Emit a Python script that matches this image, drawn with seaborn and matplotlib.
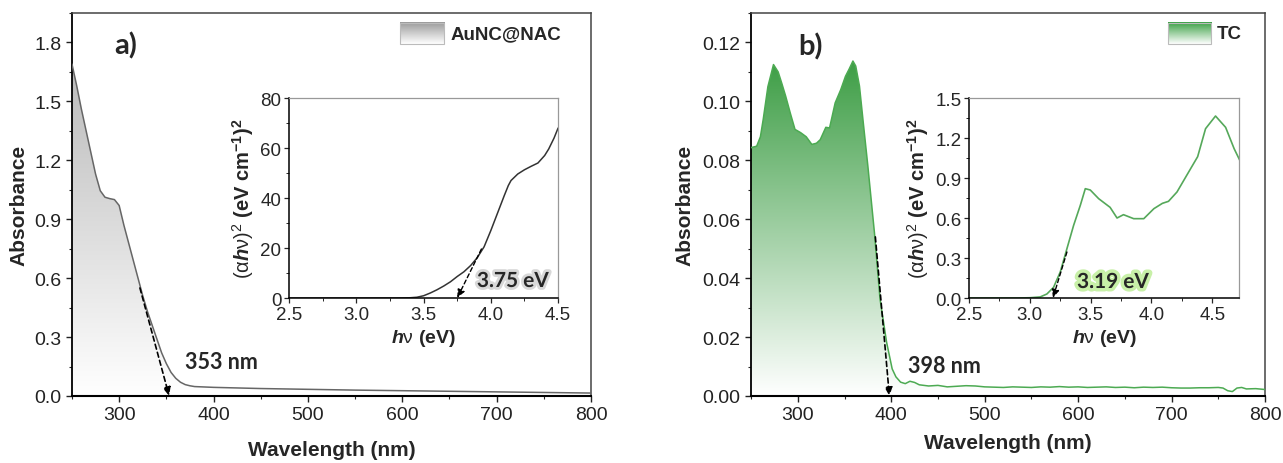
import numpy as np
import pandas as pd
import matplotlib
matplotlib.use('Agg')
import matplotlib.pyplot as plt
import seaborn as sns
from matplotlib.colors import LinearSegmentedColormap
from matplotlib.patches import Polygon, Rectangle
from matplotlib.ticker import MultipleLocator
import matplotlib.patheffects as pe

# panel a: AuNC@NAC absorbance
wl_a = [250, 255, 260, 265, 270, 275, 280, 285, 290, 295, 300, 305, 310, 315,
        320, 325, 330, 335, 340, 345, 350, 355, 360, 365, 370, 375, 380, 400,
        450, 500, 550, 600, 650, 700, 750, 800]
abs_a = [1.69, 1.58, 1.46, 1.35, 1.24, 1.13, 1.045, 1.012, 1.005, 1.0, 0.97, 0.87,
         0.78, 0.69, 0.60, 0.51, 0.43, 0.36, 0.29, 0.22, 0.165, 0.12, 0.09,
         0.07, 0.058, 0.052, 0.048, 0.044, 0.038, 0.034, 0.030, 0.027, 0.024,
         0.021, 0.018, 0.015]

# panel b: TC absorbance
wl_b = [250, 256, 260, 263, 268, 274, 279, 283, 287, 292, 297, 303, 309, 315,
        320, 324, 330, 334, 340, 346, 351, 355, 359, 362, 366, 370, 375, 382,
        388, 395, 401, 405, 410, 415, 420, 425, 430, 440, 450, 460, 470, 480,
        490, 500, 510, 520, 530, 540, 550, 560, 570, 580, 590, 600, 610, 620,
        630, 640, 650, 660, 670, 680, 690, 700, 710, 720, 730, 740, 750, 755,
        760, 765, 770, 775, 780, 790, 800]
abs_b = [0.0843, 0.0848, 0.0880, 0.0939, 0.1050, 0.1125, 0.1100, 0.1060, 0.1018,
         0.0960, 0.0905, 0.0894, 0.0880, 0.0854, 0.0858, 0.0870, 0.0912, 0.0910,
         0.0995, 0.1040, 0.1085, 0.1110, 0.1137, 0.1120, 0.1052, 0.0930, 0.0780,
         0.0555, 0.0329, 0.0183, 0.0092, 0.0065, 0.0047, 0.0042, 0.0050, 0.0046,
         0.0038, 0.0034, 0.0036, 0.0031, 0.0033, 0.0035, 0.0034, 0.0031, 0.0030,
         0.0029, 0.0031, 0.0030, 0.0029, 0.0031, 0.0030, 0.0032, 0.0030, 0.0031,
         0.0029, 0.0030, 0.0031, 0.0029, 0.0030, 0.0028, 0.0030, 0.0029, 0.0030,
         0.0028, 0.0027, 0.0027, 0.0028, 0.0028, 0.0029, 0.0027, 0.0018, 0.0015,
         0.0027, 0.0029, 0.0024, 0.0025, 0.0022]

# insets: Tauc plots
ev_a = [2.5, 3.0, 3.3, 3.4, 3.45, 3.5, 3.55, 3.6, 3.65, 3.7, 3.75, 3.8, 3.85,
        3.9, 3.95, 4.0, 4.05, 4.1, 4.13, 4.15, 4.2, 4.25, 4.3, 4.35, 4.4, 4.43,
        4.47, 4.5]
tauc_a = [0.0, 0.0, 0.02, 0.1, 0.3, 0.9, 2.0, 3.3, 4.8, 6.5, 8.6, 10.5, 13.0,
          16.2, 20.5, 27.0, 34.0, 41.0, 45.0, 47.0, 49.6, 51.3, 52.7, 54.0,
          57.0, 59.6, 64.0, 68.0]

ev_b = [2.5, 2.9, 3.0, 3.085, 3.14, 3.195, 3.25, 3.305, 3.36, 3.415, 3.456,
        3.497, 3.566, 3.66, 3.717, 3.77, 3.854, 3.937, 4.02, 4.09, 4.14, 4.21,
        4.29, 4.38, 4.445, 4.527, 4.61, 4.68, 4.728]
tauc_b = [0.0, 0.0, 0.002, 0.008, 0.03, 0.08, 0.195, 0.37, 0.545, 0.695, 0.82,
          0.81, 0.745, 0.68, 0.60, 0.625, 0.595, 0.595, 0.67, 0.71, 0.725,
          0.795, 0.92, 1.06, 1.27, 1.365, 1.28, 1.12, 1.03]

# tangent lines (start point -> intercept)
tan_a = ((322, 0.55), (353, 0.0))
tan_b = ((383, 0.054), (398, 0.0))
tan_ia = ((3.93, 19.6), (3.75, 0.0))
tan_ib = ((3.305, 0.345), (3.19, 0.0))

df_a = pd.DataFrame({'wl': wl_a, 'abs': abs_a})
df_b = pd.DataFrame({'wl': wl_b, 'abs': abs_b})
df_ia = pd.DataFrame({'ev': ev_a, 'y': tauc_a})
df_ib = pd.DataFrame({'ev': ev_b, 'y': tauc_b})

sns.set_style('ticks')
plt.rcParams['font.family'] = ['Liberation Sans', 'DejaVu Sans']
plt.rcParams['mathtext.fontset'] = 'custom'
plt.rcParams['mathtext.rm'] = 'Liberation Sans'
plt.rcParams['mathtext.it'] = 'Liberation Sans:italic'
plt.rcParams['mathtext.bf'] = 'Liberation Sans:bold'
plt.rcParams['mathtext.bfit'] = 'Liberation Sans:bold:italic'

fig = plt.figure(figsize=(12.83, 4.64), dpi=100)
ax_a = fig.add_axes([0.0561, 0.1444, 0.4045, 0.8254])
ax_b = fig.add_axes([0.5854, 0.1444, 0.4006, 0.8254])
in_a = fig.add_axes([0.2253, 0.3556, 0.2097, 0.4310])
in_b = fig.add_axes([0.7553, 0.3556, 0.2104, 0.4310])

grad = np.linspace(0, 1, 256).reshape(-1, 1)


def gradient_fill(ax, x, y, top_color, ymax):
    cmap = LinearSegmentedColormap.from_list('g', ['white', top_color])
    verts = np.column_stack([np.r_[x[0], x, x[-1]], np.r_[0, y, 0]])
    clip = Polygon(verts, closed=True, facecolor='none', edgecolor='none')
    ax.add_patch(clip)
    im = ax.imshow(grad, cmap=cmap, origin='lower', aspect='auto',
                   extent=[x[0], x[-1], 0, ymax], zorder=1)
    im.set_clip_path(clip)


def legend_box(ax, x0, x1, y0, y1, top_color, label):
    cmap = LinearSegmentedColormap.from_list('l', ['white', top_color])
    ax.imshow(grad, cmap=cmap, origin='lower', aspect='auto',
              extent=[x0, x1, y0, y1], transform=ax.transAxes, zorder=5)
    ax.add_patch(Rectangle((x0, y0), x1 - x0, y1 - y0, transform=ax.transAxes,
                           fill=False, edgecolor='#bbbbbb', lw=0.8, zorder=6))
    ax.text(x1 + 0.012, (y0 + y1) / 2, label, transform=ax.transAxes,
            fontsize=13.5, fontweight='bold', va='center', ha='left')


def dashed_arrow(ax, tan, lw=1.2):
    ax.annotate('', xy=tan[1], xytext=tan[0],
                arrowprops=dict(arrowstyle='-|>,head_width=0.22,head_length=0.5',
                                linestyle=(0, (3, 2)), color='black', lw=lw,
                                shrinkA=0, shrinkB=0), zorder=6)


def style_main(ax, ylim, ymaj, ymin):
    ax.set_xlim(250, 800)
    ax.set_ylim(*ylim)
    ax.xaxis.set_major_locator(MultipleLocator(100))
    ax.xaxis.set_minor_locator(MultipleLocator(50))
    ax.yaxis.set_major_locator(MultipleLocator(ymaj))
    ax.yaxis.set_minor_locator(MultipleLocator(ymin))
    ax.tick_params(which='major', direction='out', length=4, width=1,
                   labelsize=14, colors='#222222')
    ax.tick_params(which='minor', direction='out', length=2.5, width=0.8)
    for s in ax.spines.values():
        s.set_visible(True)
        s.set_color('#444444')
        s.set_linewidth(1.1)
    ax.spines['bottom'].set_color('black')
    ax.spines['bottom'].set_linewidth(1.5)
    ax.spines['left'].set_color('black')
    ax.spines['left'].set_linewidth(1.3)


def style_inset(ax, xlim, ylim, xmaj, ymaj):
    ax.set_xlim(*xlim)
    ax.set_ylim(*ylim)
    ax.xaxis.set_major_locator(MultipleLocator(xmaj))
    ax.xaxis.set_minor_locator(MultipleLocator(xmaj / 2))
    ax.yaxis.set_major_locator(MultipleLocator(ymaj))
    ax.yaxis.set_minor_locator(MultipleLocator(ymaj / 2))
    ax.tick_params(which='major', direction='out', length=3.5, width=0.9,
                   labelsize=13.5, pad=2)
    ax.tick_params(which='minor', direction='out', length=2, width=0.7)
    for s in ['top', 'right']:
        ax.spines[s].set_visible(True)
        ax.spines[s].set_color('#999999')
        ax.spines[s].set_linewidth(0.9)
    for s in ['left', 'bottom']:
        ax.spines[s].set_color('black')
        ax.spines[s].set_linewidth(1.1)
    ax.patch.set_facecolor('white')


# ---- panel a
gradient_fill(ax_a, np.array(wl_a), np.array(abs_a), '#b0b0b0', 1.95)
sns.lineplot(data=df_a, x='wl', y='abs', ax=ax_a, color='#666666', lw=1.1, zorder=3)
style_main(ax_a, (0, 1.95), 0.3, 0.15)
ax_a.set_xlabel('Wavelength (nm)', fontsize=15, fontweight='bold', labelpad=12)
ax_a.set_ylabel('Absorbance', fontsize=15, fontweight='bold', labelpad=4)
dashed_arrow(ax_a, tan_a)
ax_a.text(307, 1.79, 'a)', fontsize=21, fontweight='bold', family='Lato',
          ha='center', va='center')
ax_a.text(408, 0.178, '353 nm', fontsize=15.5, fontweight='bold', family='Lato',
          ha='center', va='center')
legend_box(ax_a, 0.632, 0.717, 0.919, 0.974, '#9a9a9a', 'AuNC@NAC')

# ---- panel b
gradient_fill(ax_b, np.array(wl_b), np.array(abs_b), '#3a9c42', 0.116)
sns.lineplot(data=df_b, x='wl', y='abs', ax=ax_b, color='#4caa52', lw=1.1, zorder=3)
style_main(ax_b, (0, 0.13), 0.02, 0.01)
ax_b.set_xlabel('Wavelength (nm)', fontsize=15, fontweight='bold', labelpad=7)
ax_b.set_ylabel('Absorbance', fontsize=15, fontweight='bold', labelpad=6)
dashed_arrow(ax_b, tan_b)
ax_b.text(314, 0.119, 'b)', fontsize=21, fontweight='bold', family='Lato',
          ha='center', va='center')
ax_b.text(457, 0.0102, '398 nm', fontsize=15.5, fontweight='bold', family='Lato',
          ha='center', va='center')
legend_box(ax_b, 0.811, 0.895, 0.919, 0.974, '#3aa043', 'TC')

# ---- insets
ylab = r'$(\mathrm{\alpha}\mathbfit{h}\mathrm{\nu})^2$ $\mathbf{(eV\ cm^{-1})^2}$'
xlab = r'$\mathbfit{h}\mathrm{\nu}$ $\mathbf{(eV)}$'

sns.lineplot(data=df_ia, x='ev', y='y', ax=in_a, color='#333333', lw=1.1)
style_inset(in_a, (2.5, 4.5), (0, 80), 0.5, 20)
in_a.set_xlabel(xlab, fontsize=14, labelpad=3)
in_a.set_ylabel(ylab, fontsize=14.5, labelpad=3)
dashed_arrow(in_a, tan_ia, lw=1.0)
in_a.text(4.165, 6.8, '3.75 eV', fontsize=15, fontweight='bold', family='Lato',
          ha='center', va='center',
          path_effects=[pe.withStroke(linewidth=4, foreground='#d8d8d8')])

sns.lineplot(data=df_ib, x='ev', y='y', ax=in_b, color='#55a85a', lw=1.2)
style_inset(in_b, (2.5, 4.72), (0, 1.5), 0.5, 0.3)
in_b.set_xlabel(xlab, fontsize=14, labelpad=3)
in_b.set_ylabel(ylab, fontsize=14.5, labelpad=3)
dashed_arrow(in_b, tan_ib, lw=1.0)
in_b.text(3.685, 0.12, '3.19 eV', fontsize=15, fontweight='bold', family='Lato',
          ha='center', va='center',
          path_effects=[pe.withStroke(linewidth=5, foreground='#c8f0a8')])

fig.savefig('out.png', dpi=100)
